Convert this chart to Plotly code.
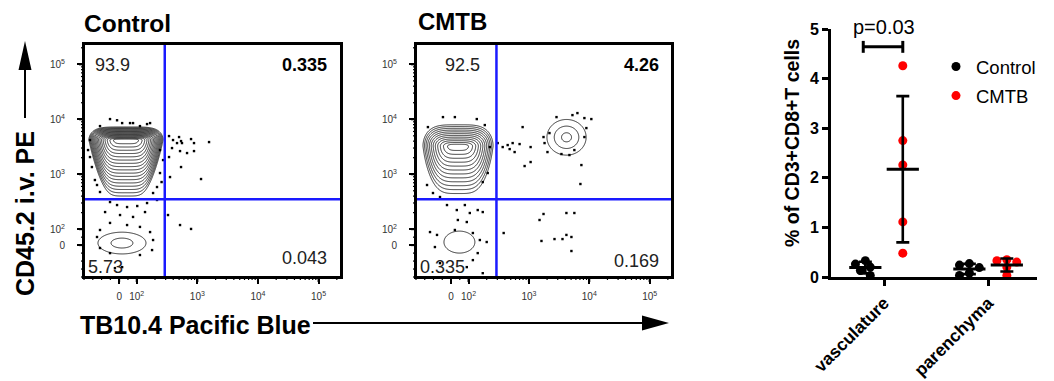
import numpy as np
import plotly.graph_objects as go

W, H = 1054, 381
def px(x): return x / W
def py(y): return 1 - y / H

# ---------------- flow-cytometry display scale (biexponential-like) ----------------
D100 = 0.29
def T(v):
    v = np.asarray(v, float)
    return np.where(v >= 100, D100 + np.log10(np.maximum(v, 100) / 100), v / 100 * D100)

AX_RANGE = [-0.58, 3.66]
tick_values = [0, 100, 1e3, 1e4, 1e5]
tick_text = ["0", "10<sup>2</sup>", "10<sup>3</sup>", "10<sup>4</sup>", "10<sup>5</sup>"]
minor_values = [-200, -150, -100, -50, 50] + [k * 10 ** n for n in (2, 3, 4) for k in range(2, 10)] + [2e5]

gate_x = 290      # TB10.4 gate
gate_y = 350      # CD45.2 gate

# populations: (center_x, center_y, sigma_x, sigma_up, sigma_down, taper, shape_exp, level_start, level_end, level_step)
control_pops = [
    (39, 4200, 0.394, 0.079, 0.34, 0.3, 5.0, 0.2, 3.0, 0.175),
    (16, 13, 0.18, 0.09, 0.09, 0.0, 2.0, 1.0, 2.2, 1.2),
]
cmtb_pops = [
    (40, 3240, 0.348, 0.14, 0.31, 0.18, 4.0, 0.25, 3.0, 0.23),
    (48, 19, 0.128, 0.10, 0.10, 0.0, 2.0, 2.0, 2.0, 1.0),
    (4200, 4700, 0.11, 0.11, 0.11, 0.0, 2.0, 0.75, 2.95, 1.1),
]

# outlier events (fluorescence intensity)
control_dots_x = [341, 397, 499, 538, 462, 558, 787, 881, 1560, 382, 518, 881, 341, 538, 1150, 354, 328, 518, 787, 676,
                  -52, -12, 62, 113, 148, -109, 79, 166, 17, -166, -155, -138, -126, -109, 242, 216, 186,
                  -52, -12, 45, 102, 148, 5, 79, -52, 45, 113, -109, 166,
                  -126, 186, -109, 179, -52, 113, 17, -24, 242, 272, 257, 216, -80, 137, -166, -177]
control_dots_y = [4950, 4190, 4750, 4015, 3690, 3690, 4365, 3690, 3850, 2995, 2640, 2640, 2055, 1352, 818, 889, 181, 119, 101, 2430,
                  10090, 9600, 8530, 7520, 8180, 7520, 8530, 8530, 8530, 2055, 1352, 785, 637, 475, 1052, 585, 455,
                  312, 275, 253, 264, 299, 181, 167, 130, 119, 110, 95, 82,
                  51, 32, -18, -31, -50, -62, -138, -144, 2754, 1811, 721, 340, 205, 205, 4190, 2754]

cmtb_dots_x = [304, 368, 445, 538, 701, 480, 580, 787, 849, 1067, 1067, 1816, 1746, 2864, 5260, 6360, 8300, 10810, 8950, 8300,
               4690, 3460, 2030, 5660, 7400, 7130, 2190,
               1746, 1500, 4180, 5660, 1615, 2654, 3600, 5060, 4180, 5060, 382,
               -132, -46, 22, 137, 186, -137, -103, -63, 172, 208, 225,
               -23, 33, 79, 105, 39, 90, 142, 172, 22, -120, -80, 118, 154, -92, 142, 118, -63, 90, 172, 200]
cmtb_dots_y = [3690, 3123, 3396, 3690, 3540, 2870, 2533, 7210, 1410, 3123, 1667, 3690, 4750, 10960, 11910, 12970, 10520, 10090, 6920, 4750,
               2235, 2330, 2533, 2754, 1469, 664, 5610,
               189, 147, 197, 197, 26, 38, 38, 51, 64, -37, 76,
               7210, 10960, 10960, 10090, 7850, 637, 455, 385, 721, 1052, 3123,
               275, 223, 275, 197, 147, 135, 223, 205, 95, 82, 64, 76, 32, -12, -50, -94, -113, -138, -176, 19.5]

control_quadrants = ["93.9", "0.335", "0.043", "5.73"]   # UL, UR, LR, LL
cmtb_quadrants = ["92.5", "4.26", "0.169", "0.335"]

# ---------------- dot plot data ----------------
categories = ["vasculature", "parenchyma"]
group_names = ["Control", "CMTB"]
group_colors = ["black", "#ff0000"]
control_vals = [[0.33, 0.26, 0.20, 0.13, 0.03], [0.27, 0.24, 0.19, 0.08, 0.03]]
cmtb_vals = [[4.26, 2.75, 2.26, 1.11, 0.48], [0.35, 0.33, 0.30, 0.20, 0.03]]
p_text = "p=0.03"

fig = go.Figure()

grid = np.linspace(AX_RANGE[0], AX_RANGE[1], 500)
GX, GY = np.meshgrid(grid, grid)

def pop_field(p):
    cx, cy, sx, sup, sdn, taper, ex, *_ = p
    dx = GX - T(cx)
    dy = GY - T(cy)
    sy = np.where(dy > 0, sup, sdn)
    below = np.clip(-dy, 0, None)
    sxe = sx * np.maximum(1 - taper * below, 0.3)
    return (np.abs(dx / sxe) ** ex + np.abs(dy / sy) ** 2) ** 0.5

def add_flow(pops, xs, ys, xa, ya):
    for p in pops:
        z = pop_field(p)
        s, e, st = p[7], p[8], p[9]
        fig.add_trace(go.Contour(x=grid, y=grid, z=z, xaxis=xa, yaxis=ya, showscale=False,
                                 autocontour=False, contours=dict(start=s, end=e + 1e-6, size=st, coloring="none"),
                                 line=dict(color="black", width=0.8), hoverinfo="skip", showlegend=False))
    fig.add_trace(go.Scatter(x=T(xs), y=T(ys), xaxis=xa, yaxis=ya, mode="markers",
                             marker=dict(symbol="square", size=2.4, color="black", line=dict(width=0)),
                             hoverinfo="skip", showlegend=False))

add_flow(control_pops, control_dots_x, control_dots_y, "x", "y")
add_flow(cmtb_pops, cmtb_dots_x, cmtb_dots_y, "x2", "y2")

# ---------------- dot plot ----------------
OFFS = [-0.18, 0.18]
UNIT_PX = 104.0   # px per category unit
YPX = 49.6        # px per y unit
DIAM = 9.0

def swarm(vals, center):
    placed = []
    out = []
    for v in vals:
        for k in [0, -1, 1, -2, 2, -3, 3]:
            xk = center + k * 0.55 * DIAM / UNIT_PX
            ok = all(((xk - a) * UNIT_PX) ** 2 + ((v - b) * YPX) ** 2 >= (0.8 * DIAM) ** 2 for a, b in placed)
            if ok:
                break
        placed.append((xk, v))
        out.append(xk)
    return out

for gi, (gname, gvals) in enumerate(zip(group_names, [control_vals, cmtb_vals])):
    allx, ally = [], []
    for ci, vals in enumerate(gvals):
        c = ci + OFFS[gi]
        allx += swarm(vals, c)
        ally += vals
    fig.add_trace(go.Scatter(x=allx, y=ally, xaxis="x3", yaxis="y3", mode="markers", name=gname,
                             marker=dict(color=group_colors[gi], size=9, line=dict(width=0)),
                             cliponaxis=False, showlegend=True, legendgroup=gname))
    means = [float(np.mean(v)) for v in gvals]
    sds = [float(np.std(v, ddof=1)) for v in gvals]
    fig.add_trace(go.Scatter(x=[ci + OFFS[gi] for ci in range(len(gvals))], y=means, xaxis="x3", yaxis="y3",
                             mode="markers", marker=dict(symbol="line-ew", size=23, color="black",
                                                          line=dict(color="black", width=3)),
                             error_y=dict(type="data", array=sds, color="black", thickness=2.6, width=6.5),
                             cliponaxis=False, showlegend=False, hoverinfo="skip"))

# ---------------- layout ----------------
flow_dom_y = [py(277), py(44)]
dom_x = {"x": [px(84), px(341)], "x2": [px(416), px(672)]}
flow_axis = dict(range=AX_RANGE, showgrid=False, zeroline=False, showline=True, mirror=True, automargin=False,
                 linecolor="black", linewidth=2, ticks="outside", ticklen=5, tickwidth=2, tickcolor="black",
                 tickmode="array", tickvals=[float(v) for v in T(tick_values)], ticktext=tick_text,
                 tickfont=dict(family="Liberation Sans, Arial", size=10, color="#333"))

fig.update_layout(
    template="none",
    width=W, height=H, margin=dict(l=0, r=0, t=0, b=0, pad=0, autoexpand=False),
    paper_bgcolor="white", plot_bgcolor="white",
    font=dict(family="Liberation Sans, Arial", color="black"),
    xaxis=dict(domain=dom_x["x"], anchor="y", ticklabelstandoff=4, **flow_axis),
    yaxis=dict(domain=flow_dom_y, anchor="x", ticklabelstandoff=10, **flow_axis),
    xaxis2=dict(domain=dom_x["x2"], anchor="y2", ticklabelstandoff=4, **flow_axis),
    yaxis2=dict(domain=flow_dom_y, anchor="x2", ticklabelstandoff=10, **flow_axis),
    xaxis3=dict(domain=[px(831), px(1037)], anchor="y3", range=[-0.51, 1.47], showgrid=False, zeroline=False,
                automargin=False,
                showline=True, linecolor="black", linewidth=3, ticks="outside", ticklen=6, tickwidth=3,
                tickcolor="black", tickmode="array", tickvals=[0, 1], ticktext=categories, tickangle=-45,
                tickfont=dict(size=17.5, weight="bold", color="black")),
    yaxis3=dict(domain=[py(277), py(29)], anchor="x3", range=[0, 5], showgrid=False, zeroline=False,
                automargin=False,
                showline=True, linecolor="black", linewidth=3, ticks="outside", ticklen=6, tickwidth=3,
                tickcolor="black", tickmode="array", tickvals=[0, 1, 2, 3, 4, 5],
                tickfont=dict(size=16, weight="bold", color="black")),
    legend=dict(x=px(936), y=py(48), xanchor="left", yanchor="top", font=dict(size=18.5),
                bgcolor="rgba(0,0,0,0)", borderwidth=0, tracegroupgap=2, itemwidth=30),
    showlegend=True,
)

shapes = []
span = AX_RANGE[1] - AX_RANGE[0]
for xa, ya in [("x", "y"), ("x2", "y2")]:
    dx0, dx1 = dom_x[xa]
    dy0, dy1 = flow_dom_y
    # tick marks along the bottom and left edges, mapped through the axis scale into page coordinates
    for vals, ln, wd in [(tick_values, 5, 2), (minor_values, 3, 1.2)]:
        for t in T(vals):
            f = float((t - AX_RANGE[0]) / span)
            xp = dx0 + f * (dx1 - dx0)
            ypp = dy0 + f * (dy1 - dy0)
            shapes.append(dict(type="line", xref="paper", yref="paper", x0=xp, x1=xp,
                               y0=dy0, y1=dy0 - ln / H, line=dict(color="black", width=wd)))
            shapes.append(dict(type="line", xref="paper", yref="paper", y0=ypp, y1=ypp,
                               x0=dx0, x1=dx0 - ln / W, line=dict(color="black", width=wd)))
    shapes.append(dict(type="line", xref=xa, yref=ya, x0=float(T(gate_x)), x1=float(T(gate_x)),
                       y0=AX_RANGE[0], y1=AX_RANGE[1], line=dict(color="#1a1aff", width=2.5)))
    shapes.append(dict(type="line", xref=xa, yref=ya, y0=float(T(gate_y)), y1=float(T(gate_y)),
                       x0=AX_RANGE[0], x1=AX_RANGE[1], line=dict(color="#1a1aff", width=2.5)))
    shapes.append(dict(type="rect", xref="paper", yref="paper", x0=dx0, x1=dx1, y0=dy0, y1=dy1,
                       line=dict(color="black", width=2), fillcolor="rgba(0,0,0,0)"))
# p-value bracket
bl, br, by, bc = -0.2, 0.18, 4.64, 0.12
shapes += [dict(type="line", xref="x3", yref="y3", x0=bl, x1=br, y0=by, y1=by, line=dict(color="black", width=3)),
           dict(type="line", xref="x3", yref="y3", x0=bl, x1=bl, y0=by - bc, y1=by + bc, line=dict(color="black", width=3)),
           dict(type="line", xref="x3", yref="y3", x0=br, x1=br, y0=by - bc, y1=by + bc, line=dict(color="black", width=3))]
# axis arrows
shapes += [dict(type="line", xref="paper", yref="paper", x0=px(25), x1=px(25), y0=py(118), y1=py(66),
                line=dict(color="black", width=2)),
           dict(type="path", xref="paper", yref="paper",
                path=f"M {px(18.5)} {py(70)} L {px(31.5)} {py(70)} L {px(25)} {py(41)} Z",
                fillcolor="black", line=dict(color="black", width=0)),
           dict(type="line", xref="paper", yref="paper", x0=px(313), x1=px(646), y0=py(323), y1=py(323),
                line=dict(color="black", width=2)),
           dict(type="path", xref="paper", yref="paper",
                path=f"M {px(642)} {py(315.5)} L {px(642)} {py(330.5)} L {px(669)} {py(323)} Z",
                fillcolor="black", line=dict(color="black", width=0))]
fig.update_layout(shapes=shapes)

ann = []
def A(text, x, y, size, bold=False, xanchor="center", angle=0, color="black"):
    ann.append(dict(text=text, x=px(x), y=py(y), xref="paper", yref="paper", showarrow=False,
                    xanchor=xanchor, yanchor="middle", textangle=angle,
                    font=dict(size=size, color=color, weight="bold" if bold else "normal")))

A("Control", 82, 23, 24.5, True, "left")
A("CMTB", 416, 22, 24, True, "left")
A("CD45.2 i.v. PE", 25, 214, 25, True, angle=-90)
A("TB10.4 Pacific Blue", 78, 325, 25, True, "left")
for qs, off in [(control_quadrants, 0), (cmtb_quadrants, 332)]:
    A(qs[0], 112 if off == 0 else 462, 65, 18, False, color="#222")
    A(qs[1], 329 + off, 65, 18, True, "right")
    A(qs[2], 329 + off, 258 if off == 0 else 261, 18, False, "right", color="#222")
    A(qs[3], 86 + off, 267, 18, False, "left", color="#222")
A(p_text, 884, 27, 20)
A("% of CD3+CD8+T cells", 792, 143, 19.5, True, angle=-90)
fig.update_layout(annotations=ann)

fig.write_html("out.html", post_script="document.body.style.margin='0';")
